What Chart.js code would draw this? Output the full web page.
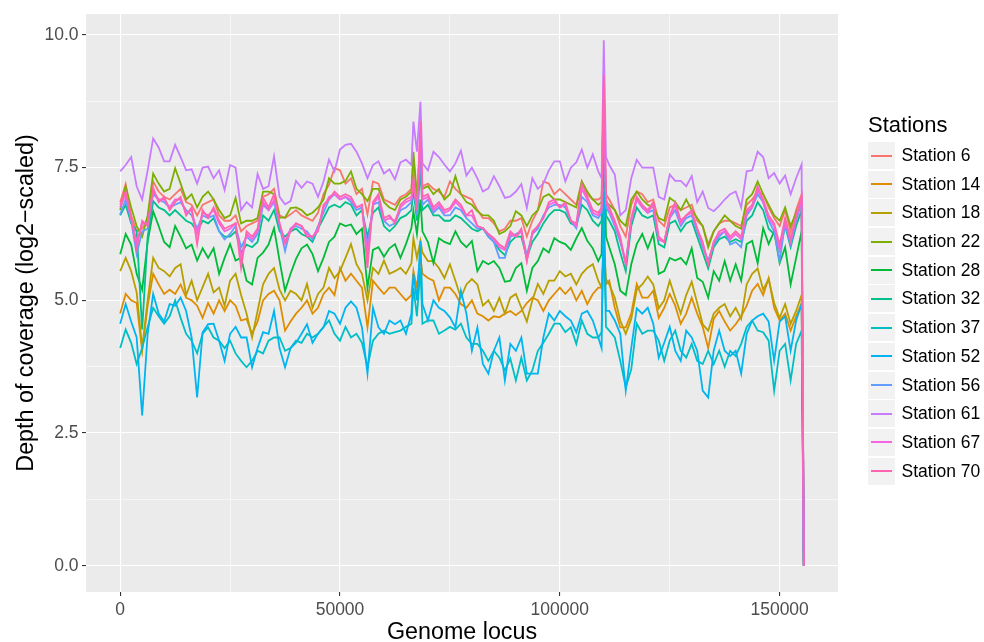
<!DOCTYPE html>
<html>
<head>
<meta charset="utf-8">
<script src="https://cdn.jsdelivr.net/npm/chart.js@4.4.1/dist/chart.umd.min.js"></script>
<style>
  html, body { margin: 0; padding: 0; background: #ffffff; }
  #wrap { position: relative; width: 984px; height: 642px; font-family: "Liberation Sans", Arial, sans-serif; }
  #chart { position: absolute; left: 0; top: 0; }
  #legend { position: absolute; left: 868px; top: 114px; }
  #legend .title { font-size: 22px; line-height: 22px; color: #000; margin-bottom: 6px; }
  #legend .row { position: relative; height: 28.7px; }
  #legend .key { position: absolute; left: 0; top: 0; width: 27px; height: 27px; background: #f2f2f2; }
  #legend .key i { position: absolute; left: 3px; right: 3px; top: 12.5px; height: 2px; }
  #legend .lab { position: absolute; left: 33.5px; top: 0; line-height: 27px; font-size: 17.5px; color: #000; white-space: nowrap; }
</style>
</head>
<body>
<div id="wrap">
  <canvas id="chart" width="984" height="642"></canvas>
  <div id="legend"></div>
</div>
<script>
// genome positions shared by every station (denser around the two coverage spikes)
const locus = [
  0, 1250, 2500, 3750, 5000, 6250, 7500, 8750, 10000, 11250,
  12500, 13750, 15000, 16250, 17500, 18750, 20000, 21250, 22500, 23750,
  25000, 26250, 27500, 28750, 30000, 31250, 32500, 33750, 35000, 36250,
  37500, 38750, 40000, 41250, 42500, 43750, 45000, 46250, 47500, 48750,
  50000, 51250, 52500, 53750, 55000, 56250, 57500, 58750, 60000, 61250,
  62500, 63750, 65000, 66250, 66700, 67500, 68300, 68750, 70000, 71250, 72500, 73750,
  75000, 76250, 77500, 78750, 80000, 81250, 82500, 83750, 85000, 86250,
  87500, 88750, 90000, 91250, 92500, 93750, 95000, 96250, 97500, 98750,
  100000, 101250, 102500, 103750, 105000, 106250, 107500, 108750, 109500, 110000, 110500, 111250, 112500, 113750,
  115000, 116250, 117500, 118750, 120000, 121250, 122500, 123750, 125000, 126250,
  127500, 128750, 130000, 131250, 132500, 133750, 135000, 136250, 137500, 138750,
  140000, 141250, 142500, 143750, 145000, 146250, 147500, 148750, 150000, 151250,
  152500, 153750, 155000, 155500];

const stationNames = ['Station 6', 'Station 14', 'Station 18', 'Station 22', 'Station 28', 'Station 32',
  'Station 37', 'Station 52', 'Station 56', 'Station 61', 'Station 67', 'Station 70'];
const stationColors = ['#F8766D', '#DE8C00', '#B79F00', '#7CAE00', '#00BA38', '#00C08B',
  '#00BFC4', '#00B4F0', '#619CFF', '#C77CFF', '#F564E3', '#FF64B0'];

// log2 depth of coverage per station, one value per locus
const st6 = [
  6.85, 7.19, 6.6, 6.3, 6.35, 6.55, 7.24, 7.05, 6.95, 6.9,
  7.0, 7.1, 6.85, 6.8, 6.6, 6.8, 6.85, 6.9, 6.6, 6.5,
  6.5, 6.6, 6.3, 6.4, 6.45, 6.5, 6.95, 7.0, 7.1, 6.6,
  6.55, 6.62, 6.7, 6.6, 6.55, 6.5, 6.65, 7.0, 7.18, 7.49,
  7.45, 7.2, 7.3, 7.0, 7.1, 6.62, 7.24, 7.2, 6.9, 6.85,
  6.8, 6.95, 7.0, 7.1, 7.67, 6.9, 8.1, 7.15, 7.2, 7.1, 7.05, 6.95,
  7.24, 7.1, 7.0, 6.95, 6.9, 6.7, 6.55, 6.55, 6.45, 6.3,
  6.35, 6.5, 6.5, 6.55, 6.2, 6.5, 6.7, 7.24, 7.2, 7.0,
  7.1, 7.0, 6.9, 6.8, 7.24, 7.0, 6.9, 6.9, 6.95, 9.0, 7.0, 6.9, 6.7, 6.4,
  6.2, 6.8, 7.05, 7.0, 6.85, 6.9, 6.5, 6.4, 6.75, 6.8,
  6.7, 6.75, 6.8, 6.5, 6.4, 6.06, 6.3, 6.45, 6.5, 6.5,
  6.45, 6.4, 6.8, 6.9, 7.05, 7.0, 6.75, 6.55, 6.4, 6.7,
  6.3, 6.7, 7.0, 0];
const st14 = [
  4.75, 5.12, 5.0, 4.95, 4.05, 4.9, 5.5, 5.3, 5.12, 5.2,
  5.12, 5.3, 5.05, 5.0, 4.9, 4.67, 4.95, 4.75, 5.0, 4.8,
  5.0, 4.9, 4.62, 4.65, 4.37, 4.6, 5.0, 5.12, 5.18, 5.0,
  4.43, 4.6, 4.75, 4.86, 5.0, 4.75, 4.86, 5.12, 5.24, 5.1,
  5.61, 5.37, 5.5, 5.37, 5.24, 4.49, 5.37, 5.24, 5.12, 5.24,
  5.24, 5.12, 5.0, 5.1, 5.55, 5.24, 5.8, 5.5, 5.42, 5.37, 5.0, 5.24,
  5.24, 5.12, 4.93, 4.86, 5.0, 4.75, 4.7, 4.62, 4.7, 4.68,
  4.75, 4.8, 4.72, 4.8, 4.95, 5.05, 5.0, 4.8, 5.0, 5.12,
  5.24, 5.12, 5.24, 5.0, 5.18, 4.93, 5.12, 5.24, 5.24, 5.9, 5.3, 5.37, 4.86, 4.49,
  4.49, 4.75, 5.31, 5.05, 5.05, 5.18, 4.67, 4.86, 5.12, 4.9,
  4.56, 4.75, 5.05, 4.75, 4.5, 4.1, 4.65, 4.8, 4.6, 4.43,
  4.55, 4.7, 4.9, 5.18, 5.31, 5.1, 5.42, 4.86, 4.62, 4.75,
  4.43, 4.7, 4.95, 0];
const st18 = [
  5.55, 5.8, 5.55, 5.15, 4.1, 5.0, 5.8, 5.61, 5.55, 5.45,
  5.61, 5.68, 5.1, 5.37, 5.0, 5.25, 5.5, 5.15, 5.24, 4.9,
  5.37, 5.5, 5.1, 4.75, 4.3, 4.8, 5.3, 5.5, 5.61, 5.2,
  5.0, 5.18, 5.12, 5.0, 5.31, 4.86, 5.12, 5.24, 5.61, 5.42,
  5.55, 5.8, 6.06, 5.68, 5.5, 5.0, 5.61, 5.5, 5.75, 5.5,
  5.55, 5.61, 5.5, 5.7, 6.17, 5.8, 6.12, 5.9, 5.74, 5.74, 5.61, 5.42,
  5.68, 5.37, 5.05, 5.3, 5.4, 5.3, 4.9, 5.0, 4.8, 5.05,
  4.75, 5.05, 5.12, 4.86, 4.6, 5.0, 5.31, 5.12, 5.37, 5.37,
  5.55, 5.45, 5.5, 5.3, 5.5, 5.61, 5.68, 5.37, 5.24, 6.1, 5.4, 5.3, 5.05, 4.62,
  4.37, 4.65, 5.2, 5.3, 5.45, 5.3, 4.85, 5.0, 5.37, 5.05,
  4.75, 5.1, 5.35, 4.95, 4.55, 4.43, 4.75, 4.86, 4.93, 4.7,
  4.86, 4.65, 5.3, 5.5, 5.6, 5.2, 5.4, 4.95, 4.67, 4.93,
  4.56, 4.8, 5.1, 0];
const st22 = [
  6.7, 7.15, 6.75, 6.4, 6.2, 6.6, 7.39, 7.2, 7.05, 7.1,
  7.49, 7.2, 6.9, 7.0, 6.75, 6.95, 7.05, 6.9, 6.7, 6.55,
  6.6, 6.93, 6.45, 6.5, 6.5, 6.55, 7.05, 7.05, 7.0, 6.56,
  6.56, 6.74, 6.75, 6.7, 6.6, 6.65, 6.75, 6.9, 7.3, 7.2,
  7.2, 7.25, 7.43, 7.1, 7.0, 6.87, 7.1, 7.1, 6.85, 6.75,
  6.7, 6.9, 6.95, 7.05, 7.8, 6.95, 7.6, 7.1, 7.15, 7.0, 7.1, 6.9,
  7.0, 7.34, 7.0, 6.85, 6.8, 6.68, 6.6, 6.6, 6.5, 6.25,
  6.3, 6.4, 6.68, 6.6, 6.4, 6.6, 6.7, 6.95, 7.0, 6.9,
  6.9, 6.85, 6.8, 6.75, 7.24, 7.05, 6.9, 6.8, 6.85, 8.5, 6.85, 6.8, 6.7, 6.5,
  6.4, 6.9, 7.05, 6.9, 6.8, 6.75, 6.55, 6.5, 6.93, 6.85,
  6.7, 6.9, 6.7, 6.55, 6.4, 6.0, 6.3, 6.45, 6.6, 6.5,
  6.4, 6.35, 6.9, 7.0, 7.24, 7.0, 6.8, 6.6, 6.5, 6.75,
  6.4, 6.65, 6.9, 0];
const st28 = [
  5.87, 6.25, 6.05, 5.5, 5.2, 6.1, 6.68, 6.4, 6.1, 6.0,
  6.4, 6.2, 5.98, 6.05, 5.75, 5.98, 5.8, 5.98, 5.5, 5.8,
  6.06, 5.75, 5.8, 5.37, 5.3, 5.8, 5.9, 6.05, 6.36, 5.75,
  5.18, 5.5, 5.78, 5.98, 6.05, 5.87, 5.55, 5.8, 6.1, 6.2,
  6.45, 6.4, 6.43, 6.25, 6.35, 5.24, 5.95, 6.0, 5.82, 5.98,
  6.06, 5.8, 6.06, 6.36, 6.68, 6.25, 6.9, 6.3, 6.1, 5.7, 6.17, 6.1,
  6.06, 6.3, 6.1, 6.0, 6.12, 5.55, 5.74, 5.68, 5.74, 5.61,
  5.35, 5.37, 5.61, 5.7, 5.18, 5.61, 5.74, 5.98, 5.9, 6.17,
  6.1, 6.06, 5.95, 6.17, 6.36, 6.12, 5.98, 5.74, 5.87, 8.37, 6.2, 6.0, 5.68, 5.18,
  5.1, 5.68, 6.06, 6.25, 5.98, 6.25, 5.5, 5.55, 5.8, 5.75,
  5.8, 5.68, 5.98, 5.42, 5.35, 5.05, 5.55, 5.37, 5.74, 5.37,
  5.68, 5.37, 6.06, 6.12, 5.7, 6.36, 6.06, 6.3, 5.7, 6.0,
  5.3, 5.8, 6.3, 0];
const st32 = [
  6.6, 6.8, 6.45, 6.3, 4.45, 6.2, 6.87, 6.75, 6.7, 6.6,
  6.7, 6.6, 6.5, 6.45, 6.3, 6.5, 6.45, 6.55, 6.3, 6.2,
  6.2, 6.3, 5.9, 6.05, 6.0, 6.1, 6.6, 6.5, 6.7, 6.3,
  6.2, 6.3, 6.35, 6.25, 6.2, 6.1, 6.35, 6.55, 6.75, 6.8,
  6.75, 6.85, 6.8, 6.6, 6.7, 6.2, 6.65, 6.75, 6.4, 6.3,
  6.4, 6.55, 6.6, 6.7, 7.1, 6.5, 7.5, 6.7, 6.8, 6.6, 6.6, 6.5,
  6.5, 6.6, 6.55, 6.45, 6.35, 6.3, 6.36, 6.2, 6.1, 5.95,
  5.85, 6.1, 6.2, 6.2, 5.8, 6.1, 6.25, 6.45, 6.6, 6.7,
  6.7, 6.65, 6.45, 6.4, 6.8, 6.7, 6.5, 6.4, 6.5, 7.6, 6.6, 6.5, 6.3, 5.9,
  5.55, 6.4, 6.75, 6.6, 6.55, 6.6, 6.06, 6.0, 6.45, 6.5,
  6.3, 6.45, 6.5, 6.2, 5.9, 5.6, 6.0, 6.15, 6.2, 6.1,
  6.15, 6.1, 6.5, 6.6, 6.85, 6.7, 6.35, 6.25, 5.95, 6.4,
  6.0, 6.4, 6.7, 0];
const st37 = [
  4.1, 4.45, 4.2, 3.8, 4.1, 4.5, 4.86, 4.7, 4.56, 4.7,
  5.0, 4.67, 4.37, 4.24, 4.0, 4.37, 4.49, 4.3, 4.24, 4.1,
  4.24, 4.0, 3.86, 3.74, 3.86, 4.05, 4.0, 4.24, 4.3, 4.3,
  4.05, 4.1, 4.24, 4.2, 4.37, 4.3, 4.37, 4.5, 4.62, 4.37,
  4.24, 4.5, 4.3, 4.37, 4.2, 3.74, 4.24, 4.37, 4.43, 4.37,
  4.4, 4.43, 4.5, 4.56, 5.24, 4.7, 5.61, 4.56, 4.62, 4.62, 4.37, 4.43,
  4.5, 4.45, 4.56, 4.3, 4.18, 4.18, 4.05, 3.86, 4.05, 3.92,
  3.68, 3.9, 3.49, 3.92, 3.49, 3.68, 4.05, 4.2, 4.37, 4.56,
  4.56, 4.4, 4.49, 4.18, 4.62, 4.37, 4.3, 4.3, 4.4, 6.3, 4.5, 4.43, 4.3, 3.86,
  3.36, 3.7, 4.56, 4.37, 4.43, 4.43, 4.24, 3.86, 4.24, 4.43,
  4.05, 3.92, 4.18, 3.86, 3.8, 4.05, 3.8, 4.05, 3.75, 4.05,
  3.95, 4.18, 4.5, 4.62, 4.43, 4.4, 4.24, 3.3, 4.05, 4.18,
  3.49, 4.18, 4.43, 0];
const st52 = [
  4.56, 4.93, 4.6, 4.3, 2.83, 4.37, 5.12, 4.75, 4.6, 4.93,
  4.9, 5.05, 4.8, 4.3, 3.17, 4.4, 4.55, 4.56, 4.24, 3.86,
  4.37, 4.5, 4.3, 4.3, 3.74, 4.1, 4.4, 4.37, 4.8, 4.1,
  3.74, 4.1, 4.2, 4.37, 4.55, 4.2, 4.37, 4.49, 4.8, 4.75,
  4.56, 4.86, 4.98, 4.86, 4.49, 3.62, 4.86, 4.49, 4.37, 4.62,
  4.55, 4.62, 4.37, 4.75, 5.5, 5.0, 6.12, 4.93, 4.62, 5.0, 4.86, 4.8,
  4.68, 4.49, 5.18, 4.75, 4.05, 4.49, 3.8, 3.62, 4.05, 4.3,
  3.49, 4.18, 4.05, 4.3, 3.62, 3.62, 3.62, 4.3, 4.75, 4.62,
  4.8, 4.7, 4.62, 4.4, 4.75, 4.8, 4.62, 4.3, 4.1, 7.05, 4.8, 4.8, 4.62, 4.37,
  3.3, 4.1, 4.85, 4.75, 4.86, 4.56, 3.92, 4.2, 4.5, 4.05,
  3.86, 4.43, 4.3, 4.05, 3.3, 3.17, 4.05, 4.43, 4.05, 3.95,
  4.05, 3.62, 4.37, 4.62, 4.7, 4.75, 4.6, 3.86, 4.6, 4.7,
  4.05, 4.62, 4.93, 0];
const st56 = [
  6.62, 6.9, 6.5, 5.87, 6.3, 6.35, 7.0, 6.9, 6.85, 6.75,
  6.8, 6.85, 6.7, 6.6, 6.35, 6.6, 6.55, 6.6, 6.3, 6.15,
  6.25, 6.4, 6.0, 6.2, 6.1, 6.25, 6.8, 6.7, 6.85, 6.4,
  5.93, 6.35, 6.4, 6.35, 6.3, 6.15, 6.4, 6.65, 6.9, 7.0,
  6.9, 6.95, 6.85, 6.7, 6.75, 6.0, 6.8, 6.85, 6.5, 6.4,
  6.45, 6.7, 6.75, 6.85, 7.25, 6.6, 7.8, 6.8, 6.9, 6.65, 6.75, 6.6,
  6.6, 6.75, 6.7, 6.55, 6.45, 6.35, 6.36, 6.2, 6.1, 5.8,
  5.8, 6.2, 6.25, 6.3, 5.85, 6.25, 6.35, 6.6, 6.75, 6.8,
  6.8, 6.75, 6.5, 6.36, 6.95, 6.85, 6.6, 6.55, 6.65, 8.6, 6.75, 6.65, 6.4, 6.1,
  5.7, 6.5, 6.9, 6.75, 6.65, 6.7, 6.15, 6.1, 6.55, 6.7,
  6.4, 6.55, 6.6, 6.3, 6.0, 5.75, 6.05, 6.2, 6.3, 6.05,
  6.1, 6.0, 6.6, 6.75, 7.0, 6.85, 6.5, 6.3, 5.74, 6.45,
  6.05, 6.5, 6.85, 0];
const st61 = [
  7.43, 7.55, 7.7, 7.15, 6.9, 7.45, 8.05, 7.88, 7.62, 7.62,
  7.93, 7.7, 7.45, 7.47, 7.2, 7.5, 7.52, 7.3, 7.45, 7.08,
  7.55, 7.5, 6.7, 6.85, 6.75, 7.38, 7.1, 7.15, 7.71, 6.95,
  6.81, 6.87, 7.25, 7.12, 7.24, 7.2, 6.95, 7.24, 7.65, 7.43,
  7.84, 7.93, 7.95, 7.8, 7.58, 7.3, 7.55, 7.62, 7.39, 7.47,
  7.28, 7.6, 7.65, 7.55, 8.37, 7.8, 8.74, 7.58, 7.45, 7.8, 7.7, 7.56,
  7.43, 7.58, 7.82, 7.35, 7.5, 7.3, 7.05, 7.11, 7.34, 7.15,
  6.93, 6.96, 7.05, 7.19, 6.74, 7.3, 7.1, 7.2, 7.45, 7.62,
  7.62, 7.24, 7.5, 7.6, 7.84, 7.5, 7.75, 7.43, 7.3, 9.9, 7.7, 7.55, 7.37, 6.6,
  6.7, 7.3, 7.65, 7.5, 7.5, 7.5, 6.95, 6.9, 7.37, 7.25,
  7.25, 7.15, 7.34, 6.85, 7.05, 6.74, 6.68, 6.78, 6.9, 7.0,
  7.05, 6.75, 7.43, 7.45, 7.8, 7.7, 7.3, 7.4, 7.2, 7.35,
  7.0, 7.3, 7.56, 0];
const st67 = [
  6.75, 7.0, 6.55, 6.1, 6.45, 6.45, 7.05, 6.9, 6.9, 6.75,
  6.9, 6.9, 6.65, 6.7, 6.25, 6.65, 6.6, 6.7, 6.45, 6.3,
  6.35, 6.45, 5.8, 6.25, 6.15, 6.3, 6.85, 6.7, 6.9, 6.45,
  6.1, 6.35, 6.45, 6.4, 6.25, 6.2, 6.35, 6.75, 6.95, 7.0,
  6.9, 6.95, 6.9, 6.75, 6.8, 5.8, 6.8, 6.95, 6.5, 6.55,
  6.5, 6.75, 6.85, 6.9, 7.2, 6.7, 8.2, 6.9, 6.95, 6.7, 6.8, 6.65,
  6.7, 6.85, 6.75, 6.6, 6.6, 6.4, 6.36, 6.25, 6.15, 6.0,
  5.95, 6.25, 6.2, 6.3, 5.75, 6.25, 6.4, 6.55, 6.8, 6.85,
  6.75, 6.8, 6.5, 6.4, 7.1, 6.9, 6.65, 6.6, 6.7, 9.1, 6.85, 6.7, 6.45, 6.15,
  5.7, 6.5, 6.9, 6.75, 6.65, 6.8, 6.15, 6.1, 6.55, 6.8,
  6.45, 6.6, 6.65, 6.35, 6.05, 5.7, 6.1, 6.25, 6.3, 6.15,
  6.25, 6.15, 6.65, 6.75, 7.1, 6.85, 6.55, 6.4, 5.95, 6.5,
  6.1, 6.55, 6.9, 0];
const st70 = [
  6.8, 7.05, 6.55, 5.98, 6.5, 6.4, 7.12, 6.85, 6.95, 6.7,
  6.85, 6.95, 6.6, 6.75, 6.06, 6.7, 6.55, 6.75, 6.5, 6.35,
  6.4, 6.45, 5.61, 6.3, 6.2, 6.35, 6.93, 6.75, 7.0, 6.45,
  6.06, 6.3, 6.45, 6.4, 6.2, 6.2, 6.3, 6.8, 6.9, 7.05,
  6.95, 7.0, 6.95, 6.75, 6.8, 5.61, 6.85, 7.0, 6.55, 6.6,
  6.45, 6.8, 6.9, 6.95, 7.3, 6.7, 8.37, 6.95, 7.0, 6.75, 6.85, 6.7,
  6.74, 6.9, 6.8, 6.6, 6.7, 6.4, 6.36, 6.25, 6.17, 6.05,
  5.98, 6.3, 6.2, 6.35, 5.74, 6.3, 6.4, 6.55, 6.85, 6.9,
  6.75, 6.85, 6.5, 6.45, 7.19, 6.95, 6.7, 6.65, 6.75, 9.25, 6.9, 6.75, 6.5, 6.2,
  5.68, 6.55, 6.95, 6.8, 6.7, 6.85, 6.2, 6.1, 6.6, 6.85,
  6.5, 6.6, 6.7, 6.35, 6.1, 5.68, 6.1, 6.3, 6.35, 6.2,
  6.3, 6.2, 6.7, 6.8, 7.15, 6.9, 6.6, 6.45, 6.05, 6.55,
  6.15, 6.6, 6.95, 0];

const stationValues = [st6, st14, st18, st22, st28, st32, st37, st52, st56, st61, st67, st70];

const yTicks = [0, 1.25, 2.5, 3.75, 5, 6.25, 7.5, 8.75, 10];
const yMajor = [0, 2.5, 5, 7.5, 10];
const xTicks = [0, 25000, 50000, 75000, 100000, 125000, 150000];
const xMajor = [0, 50000, 100000, 150000];

const FONT = '"Liberation Sans", Arial, Helvetica, sans-serif';
Chart.defaults.font.family = FONT;

// grey panel behind the grid
const panelBackground = {
    id: 'panelBackground',
    beforeDraw(chart) {
        const { ctx, chartArea: a } = chart;
        ctx.save();
        ctx.fillStyle = '#EBEBEB';
        ctx.fillRect(a.left, a.top, a.right - a.left, a.bottom - a.top);
        ctx.restore();
    }
};

const datasets = stationNames.map((name, i) => ({
    label: name,
    data: locus.map((x, j) => ({ x: x, y: stationValues[i][j] })),
    borderColor: stationColors[i],
    backgroundColor: stationColors[i],
    borderWidth: 1.8,
    pointRadius: 0,
    tension: 0,
    fill: false,
    order: stationNames.length - i   // later stations drawn on top
}));

function gridWidth(major) {
    return (c) => (c.tick && major.includes(c.tick.value)) ? 1.1 : 0.55;
}
function tickColor(major) {
    return (c) => (c.tick && major.includes(c.tick.value)) ? '#333333' : 'rgba(0,0,0,0)';
}

new Chart(document.getElementById('chart').getContext('2d'), {
    type: 'line',
    data: { datasets: datasets },
    plugins: [panelBackground],
    options: {
        responsive: false,
        animation: false,
        devicePixelRatio: 1,
        layout: { padding: { top: 12, right: 146, left: 0, bottom: 0 } },
        plugins: {
            legend: { display: false },
            tooltip: { enabled: false }
        },
        scales: {
            x: {
                type: 'linear',
                min: -7775,
                max: 163275,
                afterBuildTicks: (s) => { s.ticks = xTicks.map(v => ({ value: v })); },
                afterFit: (s) => { s.height = 50; },
                border: { display: false },
                grid: {
                    color: '#FFFFFF',
                    lineWidth: gridWidth(xMajor),
                    drawTicks: true,
                    tickLength: 4,
                    tickWidth: 1.1,
                    tickColor: tickColor(xMajor)
                },
                ticks: {
                    autoSkip: false,
                    maxRotation: 0,
                    padding: 4,
                    color: '#4D4D4D',
                    font: { size: 17.5 },
                    callback: (v) => xMajor.includes(v) ? String(v) : ''
                },
                title: {
                    display: true,
                    text: 'Genome locus',
                    color: '#000000',
                    font: { size: 23.3, lineHeight: 0.8 },
                    padding: { top: 0, bottom: 0 }
                }
            },
            y: {
                type: 'linear',
                min: -0.495,
                max: 10.395,
                afterBuildTicks: (s) => { s.ticks = yTicks.map(v => ({ value: v })); },
                afterFit: (s) => { s.width = 86; },
                border: { display: false },
                grid: {
                    color: '#FFFFFF',
                    lineWidth: gridWidth(yMajor),
                    drawTicks: true,
                    tickLength: 4,
                    tickWidth: 1.1,
                    tickColor: tickColor(yMajor)
                },
                ticks: {
                    autoSkip: false,
                    padding: 3.5,
                    color: '#4D4D4D',
                    font: { size: 17.5 },
                    callback: (v) => yMajor.includes(v) ? v.toFixed(1) : ''
                },
                title: {
                    display: true,
                    text: 'Depth of coverage (log2\u2212scaled)',
                    color: '#000000',
                    font: { size: 23.3, lineHeight: 1 },
                    padding: { top: 14.5, bottom: 0 }
                }
            }
        }
    }
});

// legend in the ggplot style: grey keys with a short line sample
const legend = document.getElementById('legend');
legend.innerHTML = '<div class="title">Stations</div>' + stationNames.map((name, i) =>
    `<div class="row"><div class="key"><i style="background:${stationColors[i]}"></i></div>` +
    `<div class="lab">${name}</div></div>`).join('');
</script>
</body>
</html>
